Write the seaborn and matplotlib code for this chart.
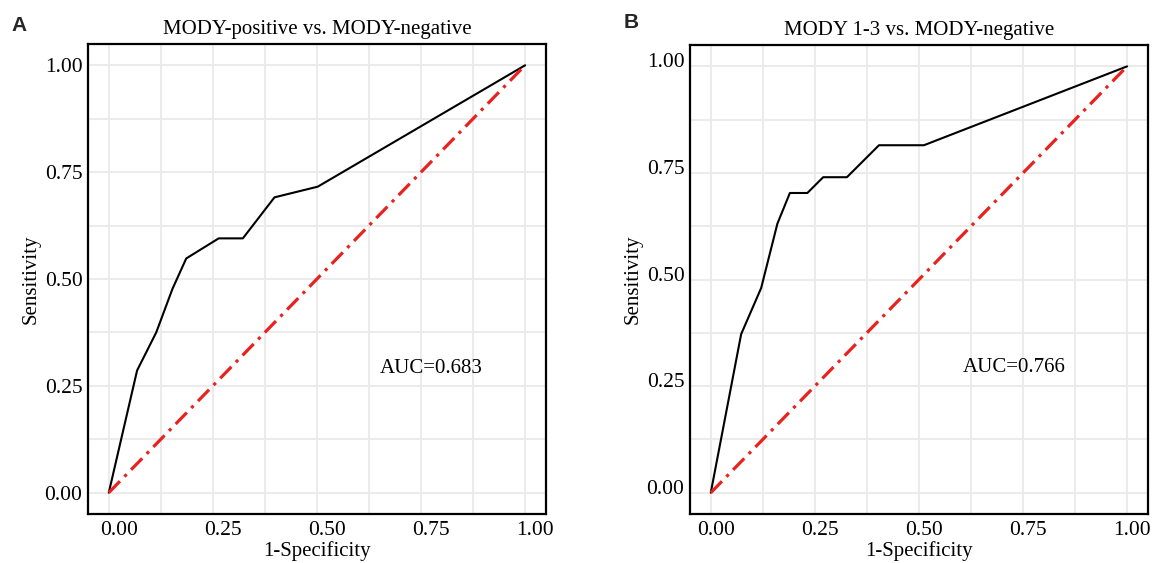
import pandas as pd
import matplotlib.pyplot as plt
import matplotlib.transforms as mtransforms
import seaborn as sns

# ROC points
fpr_a = [0.0, 0.068, 0.114, 0.153, 0.186, 0.264, 0.322, 0.398, 0.502, 1.0]
tpr_a = [0.0, 0.286, 0.375, 0.477, 0.548, 0.595, 0.595, 0.691, 0.716, 1.0]
fpr_b = [0.0, 0.073, 0.121, 0.160, 0.190, 0.232, 0.270, 0.327, 0.404, 0.512, 1.0]
tpr_b = [0.0, 0.372, 0.480, 0.631, 0.703, 0.703, 0.740, 0.740, 0.815, 0.815, 1.0]
titles = ["MODY-positive vs. MODY-negative", "MODY 1-3 vs. MODY-negative"]
auc_labels = ["AUC=0.683", "AUC=0.766"]
panel_letters = ["A", "B"]
diag = [0.0, 1.0]
ticks = [0.0, 0.25, 0.5, 0.75, 1.0]
minor_ticks = [0.125, 0.375, 0.625, 0.875]

sns.set_theme(style="whitegrid")
plt.rcParams['font.family'] = ['Liberation Serif', 'DejaVu Serif']

fig = plt.figure(figsize=(11.53, 5.63), dpi=100)
axes = [fig.add_axes([0.0763, 0.087, 0.3972, 0.835]),
        fig.add_axes([0.5984, 0.087, 0.3972, 0.833])]

data = [(fpr_a, tpr_a), (fpr_b, tpr_b)]
auc_pos = [(0.775, 0.29), (0.73, 0.293)]
# small label shifts (px) seen in the original image
xshift = [10, 5]
yshift = [0, 6]
letter_pos = [(0.010, 0.945), (0.541, 0.950)]
fs = 15

for i, ax in enumerate(axes):
    fpr, tpr = data[i]
    df = pd.DataFrame({'fpr': fpr, 'tpr': tpr})
    sns.lineplot(data=df, x='fpr', y='tpr', ax=ax, color='black', linewidth=1.5,
                 estimator=None, sort=False)
    ax.plot(diag, diag, color='#E8231F', linewidth=2.3, dashes=(5, 2, 1, 2), zorder=3)

    ax.set_xlim(-0.05, 1.05)
    ax.set_ylim(-0.05, 1.05)
    ax.set_xticks(ticks)
    ax.set_yticks(ticks)
    ax.set_xticks(minor_ticks, minor=True)
    ax.set_yticks(minor_ticks, minor=True)
    ax.set_xticklabels([f'{t:.2f}' for t in ticks])
    ax.set_yticklabels([f'{t:.2f}' for t in ticks])
    ax.grid(True, which='both', color='#EBEBEB', linewidth=1.5)
    ax.tick_params(which='both', length=0, labelsize=15.5, labelcolor='black', pad=4)
    ax.tick_params(axis='x', pad=5)
    for sp in ax.spines.values():
        sp.set_color('black')
        sp.set_linewidth(1.6)

    off = mtransforms.ScaledTranslation(xshift[i] / 100, 0, fig.dpi_scale_trans)
    for lab in ax.get_xticklabels():
        lab.set_transform(lab.get_transform() + off)
    offy = mtransforms.ScaledTranslation(0, yshift[i] / 100, fig.dpi_scale_trans)
    for lab in ax.get_yticklabels():
        lab.set_transform(lab.get_transform() + offy)

    ax.set_xlabel('1-Specificity', fontsize=fs, color='black', labelpad=1)
    ax.set_ylabel('Sensitivity', fontsize=fs, color='black', labelpad=3)
    ax.set_title(titles[i], fontsize=fs, color='black', pad=7)
    ax.text(auc_pos[i][0], auc_pos[i][1], auc_labels[i], fontsize=fs,
            ha='center', va='center', color='black')
    fig.text(letter_pos[i][0], letter_pos[i][1], panel_letters[i], fontsize=15,
             fontweight='bold', family=['Liberation Sans', 'DejaVu Sans'])

fig.savefig('out.png', dpi=100)
